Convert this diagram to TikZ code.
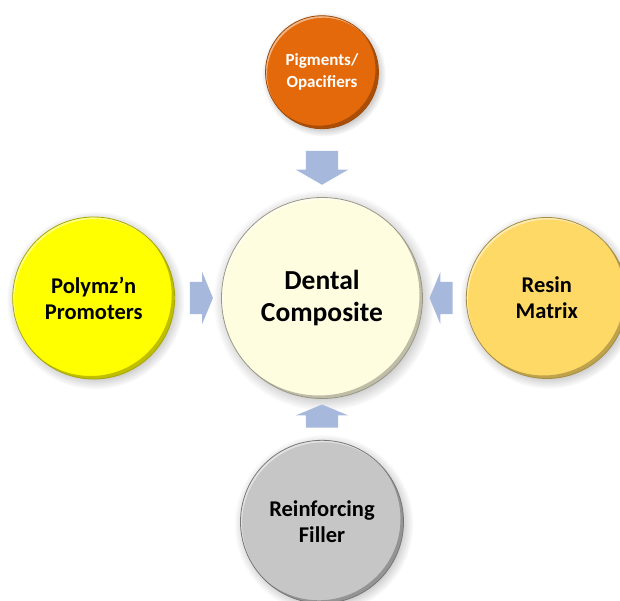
\documentclass[tikz,border=0pt]{standalone}
\usepackage{fontspec}
\setmainfont{Carlito}
\usepackage{tikz}
\usetikzlibrary{shapes.arrows, positioning, calc, shadows}

\definecolor{pigorange}{HTML}{E4690A}
\definecolor{promyellow}{HTML}{FFFF00}
\definecolor{resingold}{HTML}{FFD966}
\definecolor{fillergray}{HTML}{C6C6C6}
\definecolor{compcream}{HTML}{FFFDE0}
\definecolor{feedblue}{HTML}{A6B9DD}

\tikzstyle{ball} = [circle, inner sep=0pt, align=center, line width=0.8pt, circular drop shadow={shadow xshift=1.5pt, shadow yshift=-2pt, opacity=0.45},
    path picture={
        \path let \p1=(path picture bounding box.north east), \p2=(path picture bounding box.south west) in
            [fill=black, fill opacity=0.25, even odd rule] (path picture bounding box.south west) rectangle (path picture bounding box.north east)
            ($(path picture bounding box.center)+(-3pt,3pt)$) circle ({(\x1-\x2)/2});
        \path let \p1=(path picture bounding box.north east), \p2=(path picture bounding box.south west) in
            [fill=white, fill opacity=0.5, even odd rule] (path picture bounding box.south west) rectangle (path picture bounding box.north east)
            ($(path picture bounding box.center)+(1.5pt,-2pt)$) circle ({(\x1-\x2)/2});
    }]
\tikzstyle{feed} = [single arrow, draw=none, fill=feedblue, inner xsep=0pt, inner ysep=16pt, single arrow head extend=10pt, single arrow head indent=0pt, single arrow tip angle=135, minimum height=23pt]

\begin{document}
\begin{tikzpicture}[node distance=44pt]
    \useasboundingbox (0pt,0pt) rectangle (620pt,-601pt);

    % centre
    \node (comp) [ball, fill=compcream, draw=compcream!60!black, minimum size=201pt, font=\fontsize{27.5}{32}\selectfont\bfseries] at (322pt,-298pt) {Dental\\Composite};

    % ingredients round it
    \node (pig) [ball, fill=pigorange, draw=pigorange!70!black, minimum size=113pt, text=white, font=\fontsize{17}{22}\selectfont\bfseries, above=68pt of comp] {Pigments/\\Opacifiers};
    \node (prom) [ball, fill=promyellow, draw=promyellow!65!black, minimum size=162pt, font=\fontsize{22.5}{26}\selectfont\bfseries, left=46pt of comp] {Polymz’n\\Promoters};
    \node (resin) [ball, fill=resingold, draw=resingold!65!black, minimum size=161pt, font=\fontsize{22.5}{26}\selectfont\bfseries, right=43pt of comp] {Resin\\Matrix};
    \node (fill) [ball, fill=fillergray, draw=fillergray!60!black, minimum size=163pt, font=\fontsize{22.5}{26}\selectfont\bfseries, below=41pt of comp] {Reinforcing\\Filler};

    % block arrows into the centre
    \node (a1) [feed, rotate=-90, minimum height=34pt, single arrow tip angle=120] at ($(pig.south)!0.5!(comp.north)$) {};
    \node (a2) [feed] at ($(prom.east)!0.5!(comp.west)$) {};
    \node (a3) [feed, rotate=180] at ($(resin.west)!0.5!(comp.east)$) {};
    \node (a4) [feed, rotate=90] at ($(fill.north)!0.5!(comp.south)$) {};

\end{tikzpicture}
\end{document}
